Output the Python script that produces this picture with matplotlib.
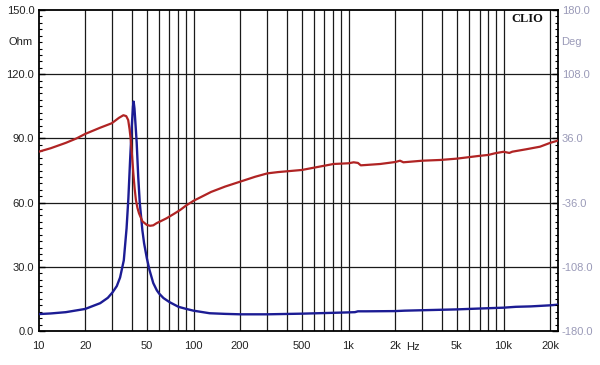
import matplotlib
matplotlib.use("Agg")
import matplotlib.pyplot as plt
from matplotlib.ticker import FixedLocator, NullFormatter, MultipleLocator

# ---- data ----
imp_freq = [10, 12, 15, 20, 25, 28, 30, 32, 33.6, 35.5, 37, 38, 39, 40, 40.7, 41.1,
            41.6, 42.3, 43, 44, 45, 46.8, 48, 50, 52, 55, 58, 60, 64, 70, 80, 90,
            100, 127, 160, 200, 300, 500, 800, 1000, 1100, 1150, 1300, 2000, 2300,
            5000, 7000, 10000, 12000, 15000, 20000, 22300]
imp_ohm = [7.9, 8.2, 8.8, 10.3, 13.0, 15.5, 18.0, 21.0, 25.0, 33.0, 48.0, 62.0, 80.0,
           96.0, 105.0, 107.2, 104.0, 96.0, 88.0, 72.0, 60.0, 47.0, 41.0, 34.0, 28.5,
           22.4, 19.0, 17.5, 15.4, 13.5, 11.3, 10.3, 9.5, 8.3, 8.0, 7.8, 7.8, 8.1,
           8.5, 8.7, 8.8, 9.2, 9.2, 9.3, 9.5, 10.1, 10.5, 10.9, 11.3, 11.5, 12.0, 12.3]

ph_freq = [10, 12, 15, 17.6, 20, 25, 29.7, 33, 35.3, 36.8, 37.9, 38.7, 39.4, 40.2,
           40.9, 41.7, 42.5, 43.5, 44.5, 46.8, 50, 52.4, 55, 57.9, 62, 67, 75, 82,
           90, 96, 100, 130, 160, 200, 250, 300, 350, 500, 600, 800, 1000, 1080,
           1150, 1200, 1300, 1600, 2000, 2150, 2260, 3000, 3900, 5000, 6900, 8000,
           8800, 10000, 10900, 11400, 14000, 17200, 20000, 22300]
ph_deg = [21, 25, 31, 36, 41, 48, 53, 59, 62, 61, 56.6, 46, 34, 15, -3, -20, -33,
          -42, -48, -57, -61, -62, -61.5, -59, -56.5, -53.6, -48.5, -44.3, -39, -36,
          -34, -24, -18, -12.5, -7, -3.2, -1.8, 0.6, 3.2, 7.3, 8.1, 9.2, 8.5, 5.8,
          6.2, 7.3, 9.5, 11, 9.2, 11, 11.8, 13.3, 16.3, 17.5, 19.3, 21, 19.7, 21.1,
          23.8, 26.7, 31, 33.4]

grid_freqs = ([20, 30, 40, 50, 60, 70, 80, 90] +
              [100, 200, 300, 400, 500, 600, 700, 800, 900] +
              [1000, 2000, 3000, 4000, 5000, 6000, 7000, 8000, 9000, 10000, 20000])
x_labels = {10: "10", 20: "20", 50: "50", 100: "100", 200: "200", 500: "500",
            1000: "1k", 2000: "2k", 5000: "5k", 10000: "10k", 20000: "20k"}
left_ticks = [0, 30, 60, 90, 120, 150]
right_ticks = [-180, -108, -36, 36, 108, 180]

# ---- figure ----
plt.rcParams['font.family'] = ['Liberation Sans', 'DejaVu Sans']
fig = plt.figure(figsize=(6.0, 3.65), dpi=100)
ax = fig.add_axes([38.5/600, 1-331/365, 519/600, 321/365])
ax.set_xscale('log')
ax.set_xlim(10, 22300)
ax.set_ylim(0, 150)

for f in grid_freqs:
    ax.axvline(f, color='#1a1a1a', lw=0.9, zorder=1)
for v in [30, 60, 90, 120]:
    ax.axhline(v, color='#1a1a1a', lw=0.9, zorder=1)

ax.plot(imp_freq, imp_ohm, color='#1c1c94', lw=1.7, zorder=3)

# x ticks labels
xt = sorted(x_labels.keys())
ax.xaxis.set_major_locator(FixedLocator(xt))
ax.set_xticklabels([x_labels[k] for k in xt])
ax.xaxis.set_minor_locator(FixedLocator([]))
ax.xaxis.set_minor_formatter(NullFormatter())
ax.tick_params(axis='x', which='both', length=0, pad=7, labelsize=8, labelcolor='#222222')

ax.set_yticks(left_ticks)
ax.set_yticklabels([f"{v:.1f}" for v in left_ticks])
ax.yaxis.set_minor_locator(MultipleLocator(3))
ax.tick_params(axis='y', which='major', direction='in', length=4, width=1,
               pad=3, labelsize=8, labelcolor='#222222')
ax.tick_params(axis='y', which='minor', direction='in', length=2.5, width=0.8)

for s in ax.spines.values():
    s.set_color('black')
    s.set_linewidth(1.3)

ax2 = ax.twinx()
ax2.set_ylim(-180, 180)
ax2.plot(ph_freq, ph_deg, color='#b02424', lw=1.6, zorder=3)
ax2.set_yticks(right_ticks)
ax2.set_yticklabels([f"{v:.1f}" for v in right_ticks])
ax2.yaxis.set_minor_locator(MultipleLocator(7.2))
ax2.tick_params(axis='y', which='major', direction='in', length=4, width=1,
                pad=3, labelsize=8, labelcolor='#9a9ab8')
ax2.tick_params(axis='y', which='minor', direction='in', length=2.5, width=0.8)
for s in ax2.spines.values():
    s.set_visible(False)

ax.text(-0.012, 135, "Ohm", transform=ax.get_yaxis_transform(), ha='right',
        va='center', fontsize=8, color='#222222')
ax2.text(1.0065, 144, "Deg", transform=ax2.get_yaxis_transform(), ha='left',
         va='center', fontsize=8, color='#9a9ab8')
xl = ax.get_xticklabels()[0]
ax.annotate("Hz", xy=(2000, 0), xycoords=ax.get_xaxis_transform(),
            xytext=(13, -7 - 8*0.5), textcoords='offset points',
            ha='center', va='center_baseline', fontsize=8, color='#222222')
ax.text(0.941, 0.972, "CLIO", transform=ax.transAxes, ha='center', va='center',
        fontsize=9, fontweight='bold', family=['Liberation Serif', 'DejaVu Serif'],
        color='#111111')

fig.savefig("out.png", dpi=100, facecolor='white')
